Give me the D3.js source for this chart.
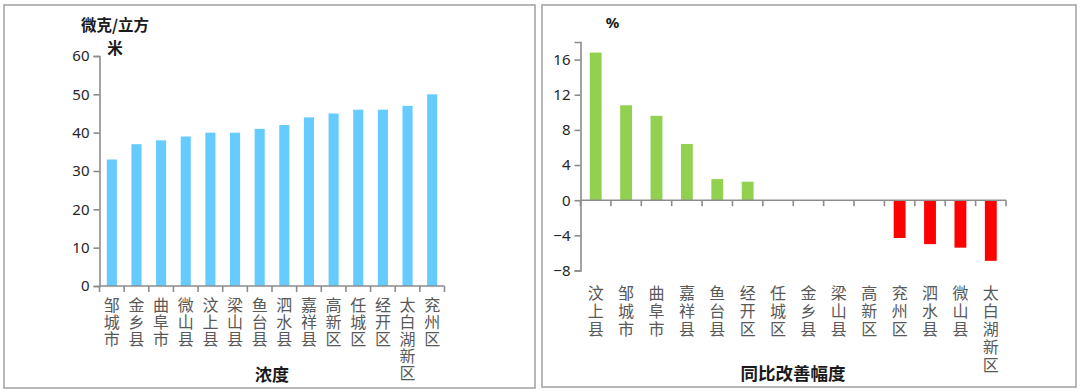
<!DOCTYPE html>
<html><head><meta charset="utf-8">
<script src="https://cdn.jsdelivr.net/npm/d3@7"></script>
<style>
html,body{margin:0;padding:0;background:#fff;}
svg{display:block;}
text.cat{writing-mode:vertical-rl;text-orientation:upright;}
</style></head>
<body>
<script>
// Left chart: concentration
const leftCategories = ["邹城市","金乡县","曲阜市","微山县","汶上县","梁山县","鱼台县","泗水县","嘉祥县","高新区","任城区","经开区","太白湖新区","兖州区"];
const leftValues = [33,37,38,39,40,40,41,42,44,45,46,46,47,50];
const leftTicks = [0,10,20,30,40,50,60];

// Right chart: year-on-year improvement
const rightCategories = ["汶上县","邹城市","曲阜市","嘉祥县","鱼台县","经开区","任城区","金乡县","梁山县","高新区","兖州区","泗水县","微山县","太白湖新区"];
const rightValues = [16.8,10.8,9.6,6.4,2.4,2.1,0,0,0,0,-4.3,-5.0,-5.4,-6.9];
const rightTicks = [-8,-4,0,4,8,12,16];

const W = 1080, H = 392;
const svg = d3.select("body").append("svg").attr("width", W).attr("height", H);

const cjk = "'Noto Sans CJK SC', 'Noto Sans', sans-serif";
const num = "'Noto Sans', 'Open Sans', sans-serif";
const axisColor = "#8c8c8c";

// panel frames
svg.append("rect").attr("x",4).attr("y",5).attr("width",531).attr("height",383)
  .attr("fill","none").attr("stroke","#a6a6a6").attr("stroke-width",1.6);
svg.append("rect").attr("x",542).attr("y",5).attr("width",534).attr("height",382)
  .attr("fill","none").attr("stroke","#a6a6a6").attr("stroke-width",1.6);

function drawChart(opts){
  const g = svg.append("g");
  const x = d3.scaleBand().domain(opts.cats).range([opts.x0, opts.x1]).paddingInner(opts.pad).paddingOuter(opts.pad/2);
  const y = d3.scaleLinear().domain(opts.domain).range([opts.yBottom, opts.yTop]);

  // bars
  g.selectAll("rect.bar").data(opts.vals).enter().append("rect")
    .attr("x",(d,i)=>x(opts.cats[i]))
    .attr("width",x.bandwidth())
    .attr("y",d=>y(Math.max(0,d)))
    .attr("height",d=>Math.abs(y(d)-y(0)))
    .attr("fill",d=>opts.color(d));

  // y axis
  const ya = d3.axisLeft(y).tickValues(opts.ticks).tickSize(6).tickPadding(4).tickFormat(d3.format("d"));
  const yg = g.append("g").attr("transform",`translate(${opts.x0},0)`).call(ya);
  yg.select(".domain").attr("stroke",axisColor).attr("stroke-width",1.6);
  yg.selectAll(".tick line").attr("stroke",axisColor).attr("stroke-width",1.6);
  yg.selectAll(".tick text").attr("fill","#262626").attr("font-family",num).attr("font-size",15);

  // x axis (ticks at category boundaries)
  const y0 = y(0);
  g.append("line").attr("x1",opts.x0).attr("x2",opts.x1).attr("y1",y0).attr("y2",y0)
    .attr("stroke",axisColor).attr("stroke-width",1.6);
  const step = x.step();
  const bounds = d3.range(opts.cats.length+1).map(i=>opts.x0 + i*step);
  g.selectAll("line.xt").data(bounds).enter().append("line")
    .attr("x1",d=>d).attr("x2",d=>d).attr("y1",y0).attr("y2",y0+6)
    .attr("stroke",axisColor).attr("stroke-width",1.6);

  // vertical category labels (one text each, vertical writing mode)
  g.selectAll("text.cat").data(opts.cats).enter().append("text")
    .attr("class","cat")
    .attr("font-family",cjk).attr("font-size",16).attr("fill","#595959")
    .attr("letter-spacing",opts.labelStep-16)
    .attr("x",c=>x(c)+x.bandwidth()/2)
    .attr("y",opts.labelY)
    .text(c=>c);
  return {x,y};
}

drawChart({
  cats:leftCategories, vals:leftValues, ticks:leftTicks,
  x0:99.5, x1:444.5, pad:0.59, domain:[0,60], yBottom:286, yTop:56,
  color:()=>"#66ccff", labelY:297, labelStep:17
});

drawChart({
  cats:rightCategories, vals:rightValues, ticks:rightTicks,
  x0:580.5, x1:1006, pad:0.61, domain:[-8,18], yBottom:270.5, yTop:42,
  color:d=>d>=0?"#92d050":"#ff0000", labelY:285, labelStep:18
});

// titles
const tl = svg.append("g").attr("font-family",cjk).attr("font-weight","bold").attr("fill","#1a1a1a");
tl.append("text").attr("x",115).attr("y",31).attr("text-anchor","middle").attr("font-size",15.5).text("微克/立方");
tl.append("text").attr("x",115).attr("y",54).attr("text-anchor","middle").attr("font-size",15.5).text("米");
tl.append("text").attr("x",272).attr("y",381).attr("text-anchor","middle").attr("font-size",17).text("浓度");
tl.append("text").attr("x",612.5).attr("y",28).attr("text-anchor","middle").attr("font-size",15).attr("font-family",num).text("%");
tl.append("text").attr("x",793).attr("y",380).attr("text-anchor","middle").attr("font-size",17.5).text("同比改善幅度");
</script>
</body></html>
